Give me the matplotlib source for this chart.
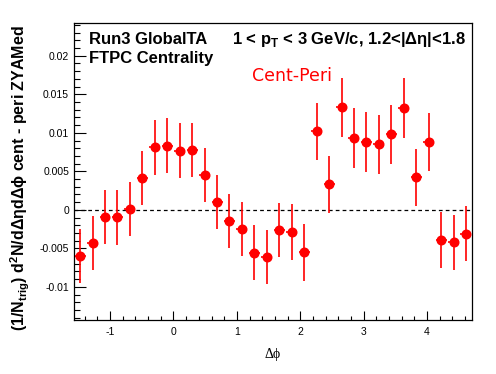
import numpy as np
import matplotlib
matplotlib.use("Agg")
import matplotlib.pyplot as plt
from matplotlib.ticker import MultipleLocator

plt.rcParams['font.family'] = ['Liberation Sans', 'DejaVu Sans']
plt.rcParams['mathtext.fontset'] = 'custom'
plt.rcParams['mathtext.rm'] = 'Liberation Sans'
plt.rcParams['mathtext.bf'] = 'Liberation Sans:bold'

# 32 bins over [-pi/2, 3pi/2]
nbins = 32
dphi = -np.pi / 2 + (np.arange(nbins) + 0.5) * 2 * np.pi / nbins

yield_diff = [-0.0060, -0.0043, -0.00095, -0.00095, 0.0001, 0.0041, 0.0081, 0.0083,
              0.0077, 0.0078, 0.0045, 0.0010, -0.0015, -0.0025, -0.0056, -0.0061,
              -0.0026, -0.0029, -0.0055, 0.0102, 0.0033, 0.0133, 0.0093, 0.0088,
              0.0085, 0.0098, 0.0132, 0.0042, 0.0088, -0.0039, -0.0042, -0.0031]
yield_err = [0.00347, 0.00355, 0.00353, 0.00357, 0.00351, 0.00351, 0.00357, 0.00357,
             0.00357, 0.00353, 0.00351, 0.00351, 0.00351, 0.00347, 0.00357, 0.00348,
             0.00351, 0.00361, 0.00368, 0.00373, 0.00374, 0.00379, 0.00392, 0.00386,
             0.00387, 0.00387, 0.00390, 0.00374, 0.00374, 0.00361, 0.00355, 0.00357]

fig = plt.figure(figsize=(4.96, 3.74), dpi=100)
ax = fig.add_axes([0.149, 0.1444, 0.803, 0.795])

bin_half = np.pi / nbins
ax.errorbar(dphi, yield_diff, yerr=yield_err, xerr=0.88 * bin_half, fmt='o',
            color='red', ms=6.2, elinewidth=1.2, capsize=0, mec='red', zorder=3)
ax.axhline(0, color='black', ls=(0, (3, 2.5)), lw=0.9, zorder=2)

ax.set_xlim(-np.pi / 2, 3 * np.pi / 2)
ax.set_ylim(-0.0143, 0.0243)

ax.xaxis.set_major_locator(MultipleLocator(1))
ax.xaxis.set_minor_locator(MultipleLocator(0.2))
ax.yaxis.set_major_locator(MultipleLocator(0.005))
ax.yaxis.set_minor_locator(MultipleLocator(0.001))
ax.set_yticks([-0.01, -0.005, 0, 0.005, 0.01, 0.015, 0.02])
ax.set_yticklabels(['-0.01', '-0.005', '0', '0.005', '0.01', '0.015', '0.02'])
ax.set_xticks([-1, 0, 1, 2, 3, 4])
ax.set_xticklabels(['-1', '0', '1', '2', '3', '4'])

ax.tick_params(axis='both', which='both', direction='in', labelsize=7.5,
               top=False, right=False)
ax.tick_params(axis='y', which='major', length=8.6, width=0.8, pad=3.5)
ax.tick_params(axis='y', which='minor', length=4.3, width=0.8)
ax.tick_params(axis='x', which='major', length=6.5, width=0.8, pad=5)
ax.tick_params(axis='x', which='minor', length=3.2, width=0.8)
for s in ax.spines.values():
    s.set_linewidth(0.9)

ax.set_xlabel('Δϕ', fontsize=10, family=['Liberation Serif', 'DejaVu Serif'], labelpad=8)
ax.set_ylabel(r'(1/N$_\mathbf{trig}$) d$^\mathbf{2}$N/dΔηdΔϕ cent - peri ZYAMed',
              fontsize=11.5, fontweight='bold', loc='top')
ax.yaxis.set_label_coords(-0.105, 0.99)

ax.text(0.037, 0.928, 'Run3 GlobalTA', transform=ax.transAxes, fontsize=12,
        fontweight='bold', va='baseline', ha='left')
ax.text(0.037, 0.866, 'FTPC Centrality', transform=ax.transAxes, fontsize=12,
        fontweight='bold', va='baseline', ha='left')
ax.text(0.398, 0.928, r'1 < p$_\mathbf{T}$ < 3 GeV/c, 1.2<|Δη|<1.8', transform=ax.transAxes,
        fontsize=12, fontweight='bold', va='baseline', ha='left')
ax.text(0.448, 0.804, 'Cent-Peri', transform=ax.transAxes, fontsize=12.5,
        color='red', family='DejaVu Sans', va='baseline', ha='left')

fig.savefig('out.png', dpi=100)
